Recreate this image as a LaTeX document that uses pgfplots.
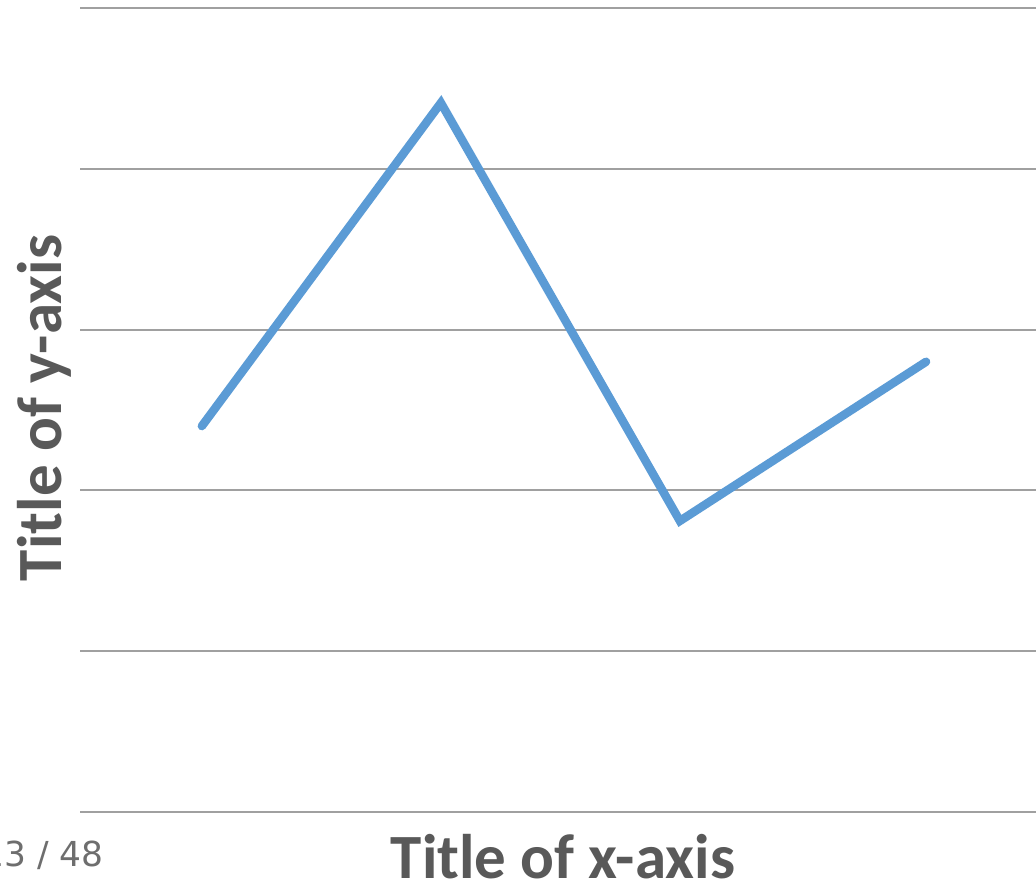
\documentclass[border=0pt]{standalone}
\usepackage{pgfplots}
\pgfplotsset{compat=1.18}
\usepackage{fontspec}
\setmainfont{Carlito}
\newfontfamily\pagefont{DejaVu Sans}
\definecolor{linecol}{RGB}{91,155,213}
\definecolor{titlegray}{RGB}{89,89,89}
\definecolor{gridgray}{RGB}{160,160,160}
\definecolor{pagegray}{RGB}{110,110,110}
\begin{document}
\begin{tikzpicture}[x=0.5pt,y=0.5pt]
\useasboundingbox (0,0) rectangle (1036,886);
\begin{axis}[
  at={(40pt,37pt)}, anchor=south west,
  scale only axis,
  width=478pt, height=402pt,
  xmin=-0.51, xmax=3.49,
  ymin=0, ymax=5,
  ytick={0,1,2,3,4,5},
  xtick=\empty,
  yticklabels={},
  major tick length=0pt,
  ymajorgrids,
  grid style={gridgray, line width=1pt},
  axis line style={draw=none},
  clip=false,
]
\addplot[linecol, line width=4.25pt, line cap=round, line join=miter, mark=none]
  coordinates {(0,2.40) (1,4.41) (2,1.81) (3.03,2.80)};
\end{axis}
\node[anchor=base, text=titlegray, font=\bfseries\fontsize{31.5}{36}\selectfont] at (563,7) {Title of x-axis};
\node[anchor=base, rotate=90, text=titlegray, font=\bfseries\fontsize{31.5}{36}\selectfont] at (61,478) {Title of y-axis};
\node[anchor=base east, text=pagegray, font=\pagefont\fontsize{17.2}{20}\selectfont, inner sep=0pt] at (104,19) {13 / 48};
\end{tikzpicture}
\end{document}
